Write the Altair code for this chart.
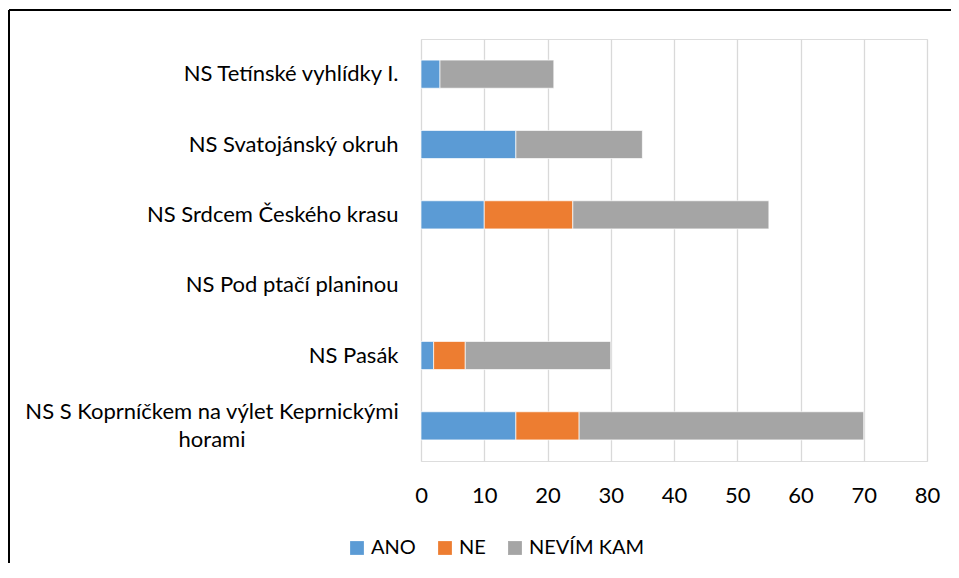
import altair as alt
import pandas as pd

categories = [
    "NS Tetínské vyhlídky I.",
    "NS Svatojánský okruh",
    "NS Srdcem Českého krasu",
    "NS Pod ptačí planinou",
    "NS Pasák",
    "NS S Koprníčkem na výlet Keprnickými horami",
]
long_label = categories[-1]
long_label_lines = ["NS S Koprníčkem na výlet Keprnickými", "horami"]
series = ["ANO", "NE", "NEVÍM KAM"]
ano = [3, 15, 10, 0, 2, 15]
ne = [0, 0, 14, 0, 5, 10]
nevim = [18, 20, 31, 0, 23, 45]
colors = ["#5B9BD5", "#ED7D31", "#A5A5A5"]
x_ticks = [0, 10, 20, 30, 40, 50, 60, 70, 80]

rows = []
for i, c in enumerate(categories):
    for j, (s, vals) in enumerate(zip(series, [ano, ne, nevim])):
        rows.append({"category": c, "series": s, "value": vals[i], "order": j})
df = pd.DataFrame(rows)

FONT = "Lato"
FS = 22

yscale = alt.Scale(domain=categories, paddingInner=0.6, paddingOuter=0.3)

bars = alt.Chart(df).transform_filter("datum.value > 0").mark_bar(
    stroke="#ffffff", strokeWidth=0.7
).encode(
    y=alt.Y(
        "category:N",
        scale=yscale,
        axis=alt.Axis(
            title=None,
            domain=False,
            ticks=False,
            tickSize=0,
            grid=False,
            labelPadding=23,
            labelFont=FONT,
            labelFontSize=FS,
            labelColor="#000000",
            labelLimit=400,
            labelExpr=f"datum.label == '{long_label}' ? '' : datum.label",
        ),
    ),
    x=alt.X(
        "value:Q",
        stack="zero",
        scale=alt.Scale(domain=[0, 80], nice=False),
        axis=alt.Axis(
            title=None,
            values=x_ticks,
            domain=False,
            ticks=False,
            tickSize=0,
            grid=True,
            gridColor="#D9D9D9",
            gridWidth=1.3,
            labelPadding=24,
            labelFlush=False,
            labelFont=FONT,
            labelFontSize=FS,
            labelColor="#000000",
        ),
    ),
    color=alt.Color(
        "series:N",
        scale=alt.Scale(domain=series, range=colors),
        legend=alt.Legend(
            title=None,
            orient="none",
            direction="horizontal",
            legendX=-74,
            legendY=499,
            symbolType="square",
            symbolSize=190,
            symbolStrokeWidth=0,
            labelFont=FONT,
            labelFontSize=20,
            labelColor="#000000",
            labelOffset=4,
            columnPadding=19,
        ),
    ),
    order=alt.Order("order:Q"),
)

long_df = pd.DataFrame({"category": [long_label], "l1": [long_label_lines[0]], "l2": [long_label_lines[1]]})
line1 = alt.Chart(long_df).mark_text(
    align="center", baseline="middle", dy=-14, font=FONT, fontSize=FS, color="#000000"
).encode(y=alt.Y("category:N", scale=yscale), x=alt.value(-209), text="l1:N")
line2 = alt.Chart(long_df).mark_text(
    align="center", baseline="middle", dy=14, font=FONT, fontSize=FS, color="#000000"
).encode(y=alt.Y("category:N", scale=yscale), x=alt.value(-209), text="l2:N")

frame_top = alt.Chart(long_df).mark_rule(color="#000000", strokeWidth=2).encode(
    x=alt.value(-412), x2=alt.value(540), y=alt.value(-29)
)
frame_left = alt.Chart(long_df).mark_rule(color="#000000", strokeWidth=2).encode(
    x=alt.value(-412), y=alt.value(-29), y2=alt.value(540)
)

chart = alt.layer(bars, line1, line2, frame_top, frame_left).properties(
    width=506,
    height=422,
    padding={"left": 413, "top": 31, "right": 24, "bottom": 102},
    autosize=alt.AutoSizeParams(type="none"),
).configure_view(stroke=None).configure(font=FONT, background="#ffffff")

chart.save("out.html", embed_options={"renderer": "svg", "actions": False})
